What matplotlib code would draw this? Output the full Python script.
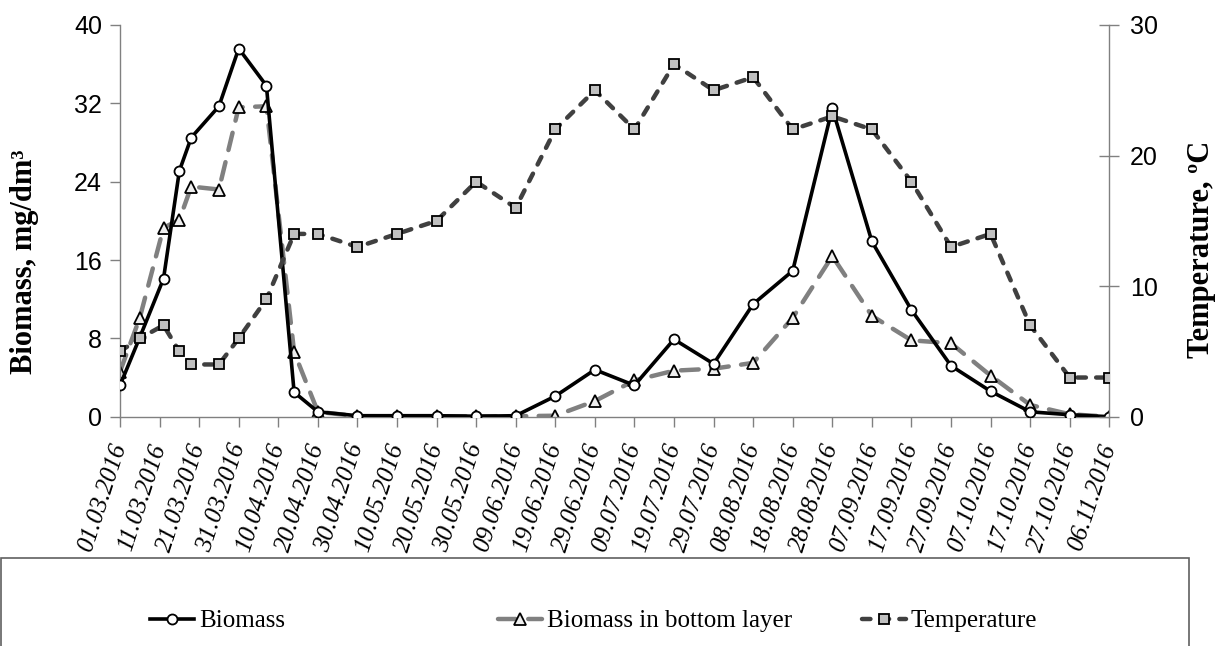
import matplotlib
matplotlib.use("Agg")
import matplotlib.pyplot as plt
import matplotlib.transforms as mtransforms
from matplotlib.patches import Rectangle
from datetime import datetime, timedelta

# ---- data ----
dates = ['01.03.2016', '06.03.2016', '12.03.2016', '16.03.2016', '19.03.2016',
         '26.03.2016', '31.03.2016', '07.04.2016', '14.04.2016', '20.04.2016',
         '30.04.2016', '10.05.2016', '20.05.2016', '30.05.2016', '09.06.2016',
         '19.06.2016', '29.06.2016', '09.07.2016', '19.07.2016', '29.07.2016',
         '08.08.2016', '18.08.2016', '28.08.2016', '07.09.2016', '17.09.2016',
         '27.09.2016', '07.10.2016', '17.10.2016', '27.10.2016', '06.11.2016']
biomass = [3.2, 8.1, 14.1, 25.1, 28.5, 31.7, 37.6, 33.8, 2.5,
           0.5, 0.1, 0.1, 0.1, 0.05, 0.1, 2.1, 4.8, 3.2, 7.9, 5.4,
           11.5, 14.9, 31.5, 17.9, 10.9, 5.2, 2.6, 0.5, 0.2, 0.0]
biomass_bottom = [4.6, 10.1, 19.3, 20.1, 23.5, 23.2, 31.6, 31.7, 6.6,
                  0.5, 0.05, 0.05, 0.05, 0.05, 0.05, 0.1, 1.6, 3.7, 4.7, 4.9,
                  5.5, 10.1, 16.4, 10.3, 7.8, 7.5, 4.2, 1.2, 0.25, 0.0]
temperature = [5, 6, 7, 5, 4, 4, 6, 9, 14,
               14, 13, 14, 15, 18, 16, 22, 25, 22, 27, 25,
               26, 22, 23, 22, 18, 13, 14, 7, 3, 3]
tick_start = '01.03.2016'
tick_step_days = 10
n_ticks = 26
left_ticks = [0, 8, 16, 24, 32, 40]
right_ticks = [0, 10, 20, 30]

x = [datetime.strptime(d, '%d.%m.%Y') for d in dates]
t0 = datetime.strptime(tick_start, '%d.%m.%Y')
tick_dates = [t0 + timedelta(days=tick_step_days * k) for k in range(n_ticks)]

W, H = 1225, 646
fig = plt.figure(figsize=(W / 100, H / 100), dpi=100)
ax = fig.add_axes([120 / W, 1 - 416.7 / H, (1109.3 - 120) / W, (416.7 - 25) / H])
ax2 = ax.twinx()

axis_col = '#808080'
serif = ['Liberation Serif', 'DejaVu Serif']
sans = ['Liberation Sans', 'DejaVu Sans']

l1, = ax.plot(x, biomass, color='black', lw=2.6, marker='o', ms=7.2,
              mfc='white', mec='black', mew=1.3, label='Biomass',
              solid_joinstyle='round', zorder=3)
l2, = ax.plot(x, biomass_bottom, color='#808080', lw=3.2, marker='^', ms=9,
              mfc='#eeeeee', mec='black', mew=1.3, label='Biomass in bottom layer',
              dashes=(4, 2.8), dash_capstyle='round', zorder=2)
l3, = ax2.plot(x, temperature, color='#404040', lw=3.2, marker='s', ms=6.8,
               mfc='#c0c0c0', mec='black', mew=1.3, label='Temperature',
               dashes=(1.9, 2.3), dash_capstyle='round', zorder=3)

ax.set_xlim(tick_dates[0], tick_dates[-1])
ax.set_ylim(0, 40)
ax2.set_ylim(0, 30)
ax.set_yticks(left_ticks)
ax2.set_yticks(right_ticks)
ax.set_xticks(tick_dates)
ax.set_xticklabels([d.strftime('%d.%m.%Y') for d in tick_dates],
                   rotation=72, ha='right', va='center', rotation_mode='anchor',
                   family=serif, style='italic', fontsize=18)
shift = mtransforms.ScaledTranslation(4 / 100, 0, fig.dpi_scale_trans)
for lab in ax.get_xticklabels():
    lab.set_transform(lab.get_transform() + shift)
for lab in ax.get_yticklabels():
    lab.set_family(sans)
for lab in ax2.get_yticklabels():
    lab.set_family(sans)

for a in (ax, ax2):
    a.spines['top'].set_visible(False)
    for s in a.spines.values():
        s.set_color(axis_col)
        s.set_linewidth(1.0)
ax.spines['right'].set_visible(False)
ax2.spines['left'].set_visible(False)
ax2.spines['bottom'].set_visible(False)

ax.tick_params(axis='x', direction='out', length=7, width=1, color=axis_col, pad=13)
ax.tick_params(axis='y', direction='out', length=7, width=1, color=axis_col,
               labelsize=18, pad=6)
ax2.tick_params(axis='y', direction='inout', length=14, width=1, color=axis_col,
                labelsize=18, pad=8)

fig.text(25 / W, 1 - 262 / H, 'Biomass, mg/dm³', rotation=90, ha='center', va='center',
         family=serif, fontweight='bold', fontsize=22)
fig.text(1202 / W, 1 - 249 / H, 'Temperature, ºC', rotation=90, ha='center', va='center',
         family=serif, fontweight='bold', fontsize=22)

# legend box
fig.patches.append(Rectangle((0.5 / W, -0.1), 1188 / W, 0.1 + (646 - 558) / H,
                             transform=fig.transFigure, fill=False,
                             edgecolor='#606060', lw=1.2, clip_on=False))
leg_y = 1 - 621 / H
for line, xs in ((l1, 150), (l2, 498), (l3, 862)):
    fig.legend(handles=[line], labels=[line.get_label()], loc='center left',
               bbox_to_anchor=(xs / W, leg_y), frameon=False, borderpad=0,
               borderaxespad=0, handlelength=1.75, handletextpad=0.2,
               numpoints=1, prop={'family': serif, 'size': 18})

fig.savefig('out.png', dpi=100)
